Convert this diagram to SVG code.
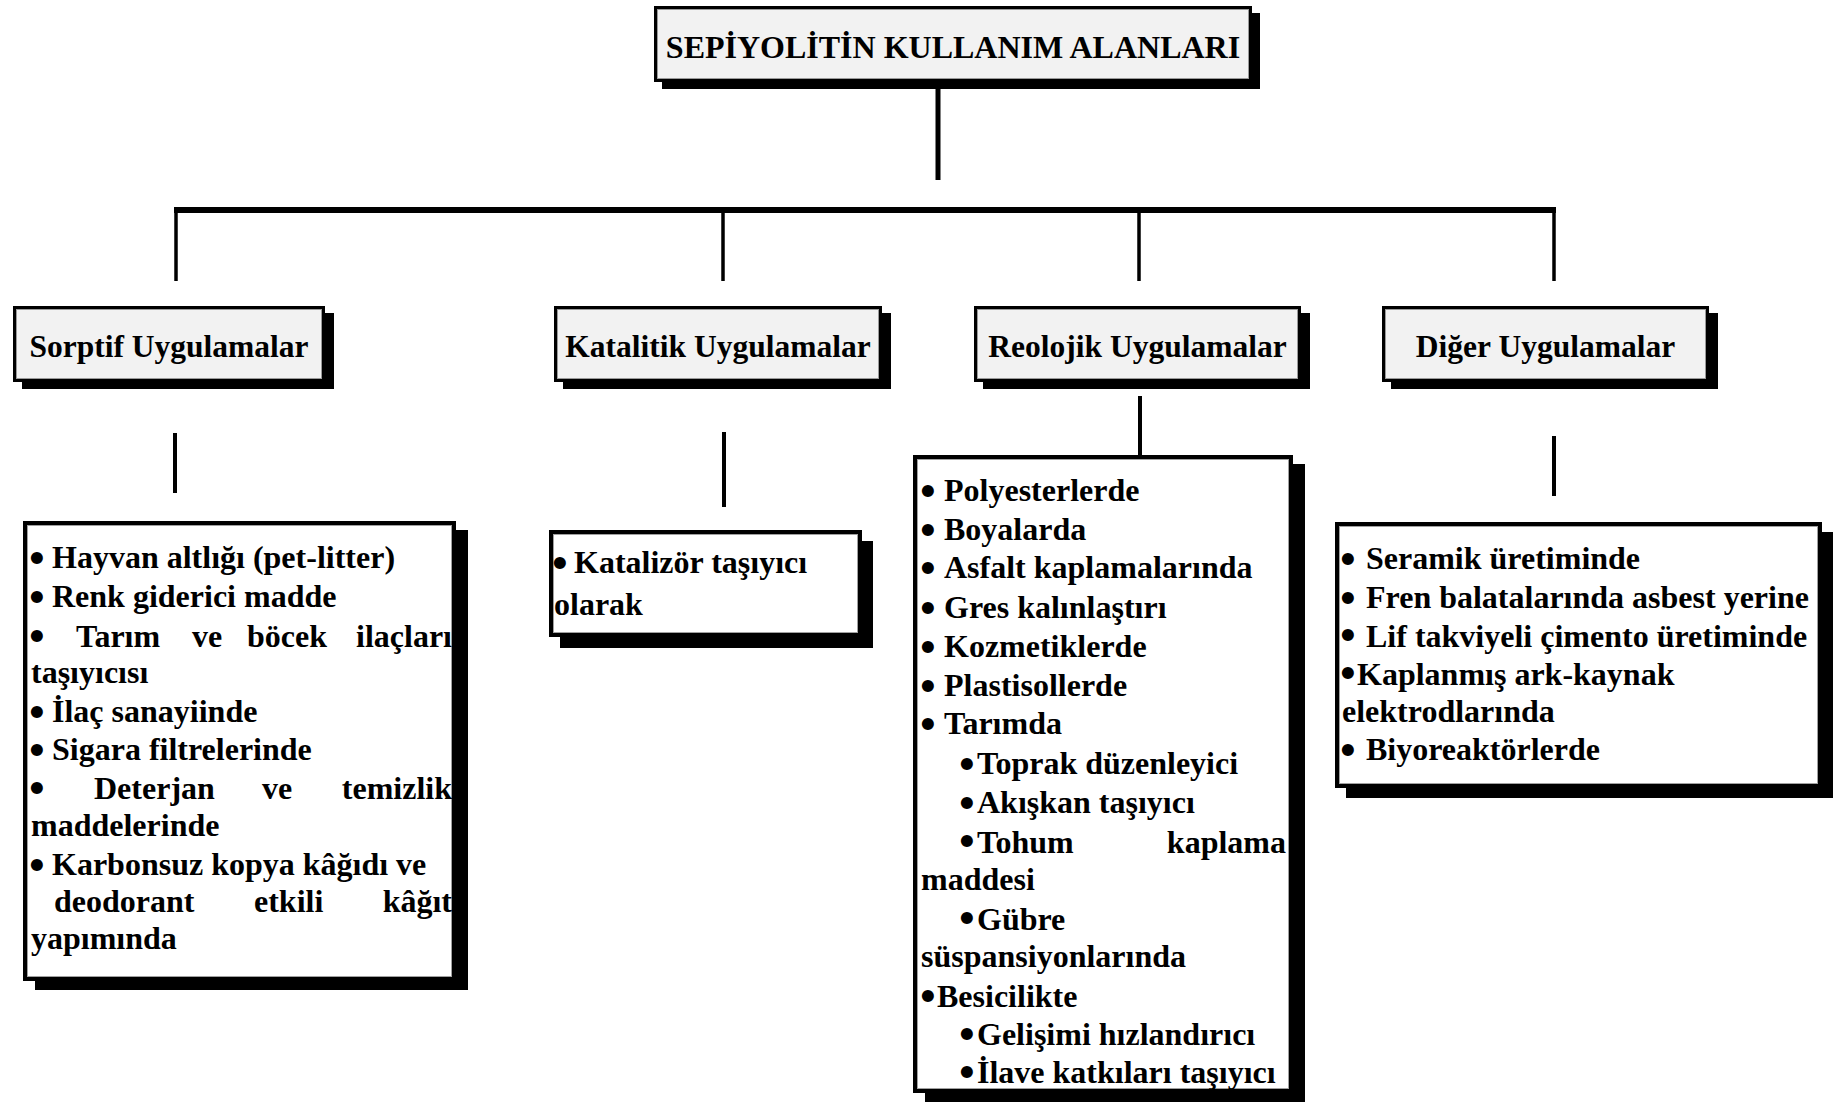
<svg xmlns="http://www.w3.org/2000/svg" width="1841" height="1104" viewBox="0 0 1841 1104">
<style>
text{font-family:"Liberation Serif","Times New Roman",serif;font-weight:bold;fill:#000}
.t{font-size:32px}
.c{font-size:31.5px;text-anchor:middle}
.d{font-size:32px}
.b{font-family:"DejaVu Sans",sans-serif;font-size:34px}
.e{text-anchor:end}
.shadow{fill:#000}
.hb{fill:#f2f2f2;stroke:#000;stroke-width:3}
.hi{fill:none;stroke:#9a9a9a;stroke-width:1}
.db{fill:#fff;stroke:#000;stroke-width:4}
.di{fill:none;stroke:#a0a0a0;stroke-width:1}
.ln{stroke:#000;fill:none}
</style>
<rect width="1841" height="1104" fill="#fff"/>
<g id="connectors">
<line class="ln" x1="938" y1="89" x2="938" y2="180" stroke-width="5"/>
<line class="ln" x1="174" y1="210" x2="1556" y2="210" stroke-width="6"/>
<line class="ln" x1="176" y1="210" x2="176" y2="281" stroke-width="3.5"/>
<line class="ln" x1="723" y1="210" x2="723" y2="281" stroke-width="3.5"/>
<line class="ln" x1="1139" y1="210" x2="1139" y2="281" stroke-width="3.5"/>
<line class="ln" x1="1554" y1="210" x2="1554" y2="281" stroke-width="3.5"/>
<line class="ln" x1="175" y1="433" x2="175" y2="493" stroke-width="4"/>
<line class="ln" x1="724" y1="432" x2="724" y2="507" stroke-width="4"/>
<line class="ln" x1="1140" y1="396" x2="1140" y2="456" stroke-width="4"/>
<line class="ln" x1="1554" y1="436" x2="1554" y2="496" stroke-width="4"/>
</g>
<g id="title">
<rect class="shadow" x="662" y="13" width="598" height="76"/>
<rect class="hb" x="655.5" y="7.5" width="595" height="73"/>
<rect class="hi" x="657.5" y="9.5" width="591" height="69"/>
<text class="t" x="953" y="58" text-anchor="middle">SEPİYOLİTİN KULLANIM ALANLARI</text>
</g>
<g id="sorptif">
<rect class="shadow" x="22" y="313" width="312" height="76"/>
<rect class="hb" x="14.5" y="307.5" width="309" height="73"/>
<rect class="hi" x="16.5" y="309.5" width="305" height="69"/>
<text class="c" x="169" y="357">Sorptif Uygulamalar</text>
</g>
<g id="katalitik">
<rect class="shadow" x="563" y="313" width="328" height="76"/>
<rect class="hb" x="555.5" y="307.5" width="325" height="73"/>
<rect class="hi" x="557.5" y="309.5" width="321" height="69"/>
<text class="c" x="718" y="357">Katalitik Uygulamalar</text>
</g>
<g id="reolojik">
<rect class="shadow" x="983" y="313" width="327" height="76"/>
<rect class="hb" x="975.5" y="307.5" width="324" height="73"/>
<rect class="hi" x="977.5" y="309.5" width="320" height="69"/>
<text class="c" x="1137.5" y="357">Reolojik Uygulamalar</text>
</g>
<g id="diger">
<rect class="shadow" x="1391" y="313" width="327" height="76"/>
<rect class="hb" x="1383.5" y="307.5" width="324" height="73"/>
<rect class="hi" x="1385.5" y="309.5" width="320" height="69"/>
<text class="c" x="1545.5" y="357">Diğer Uygulamalar</text>
</g>
<g id="sorptif-list">
<rect class="shadow" x="35" y="530" width="433" height="460"/>
<rect class="db" x="25" y="523" width="429" height="456"/>
<rect class="di" x="27.5" y="525.5" width="424" height="451"/>
<text class="d"><tspan class="b" x="26" y="571">•</tspan><tspan x="52" y="568">Hayvan altlığı (pet-litter)</tspan></text>
<text class="d"><tspan class="b" x="26" y="610">•</tspan><tspan x="52" y="607">Renk giderici madde</tspan></text>
<text class="d"><tspan class="b" x="26" y="649">•</tspan><tspan x="76" y="647">Tarım</tspan><tspan x="192" y="647">ve</tspan><tspan x="247" y="647">böcek</tspan></text>
<text class="d e" x="452" y="647">ilaçları</text>
<text class="d" x="31" y="683">taşıyıcısı</text>
<text class="d"><tspan class="b" x="26" y="725">•</tspan><tspan x="52" y="722">İlaç sanayiinde</tspan></text>
<text class="d"><tspan class="b" x="26" y="763">•</tspan><tspan x="52" y="760">Sigara filtrelerinde</tspan></text>
<text class="d"><tspan class="b" x="26" y="801">•</tspan><tspan x="94" y="799">Deterjan</tspan><tspan x="262" y="799">ve</tspan></text>
<text class="d e" x="452" y="799">temizlik</text>
<text class="d" x="31" y="836">maddelerinde</text>
<text class="d"><tspan class="b" x="26" y="878">•</tspan><tspan x="52" y="875">Karbonsuz kopya kâğıdı ve</tspan></text>
<text class="d"><tspan x="54" y="912">deodorant</tspan><tspan x="254" y="912">etkili</tspan></text>
<text class="d e" x="452" y="912">kâğıt</text>
<text class="d" x="31" y="949">yapımında</text>
</g>
<g id="katalitik-list">
<rect class="shadow" x="560" y="541" width="313" height="107"/>
<rect class="db" x="551" y="532" width="309" height="103"/>
<rect class="di" x="553.5" y="534.5" width="304" height="98"/>
<text class="d"><tspan class="b" x="549" y="576">•</tspan><tspan x="574" y="573">Katalizör taşıyıcı</tspan></text>
<text class="d" x="554" y="615">olarak</text>
</g>
<g id="reolojik-list">
<rect class="shadow" x="925" y="464" width="380" height="638"/>
<rect class="db" x="915" y="457" width="376" height="634"/>
<rect class="di" x="917.5" y="459.5" width="371" height="629"/>
<text class="d"><tspan class="b" x="917" y="504">•</tspan><tspan x="944" y="501">Polyesterlerde</tspan></text>
<text class="d"><tspan class="b" x="917" y="543">•</tspan><tspan x="944" y="540">Boyalarda</tspan></text>
<text class="d"><tspan class="b" x="917" y="581">•</tspan><tspan x="944" y="578">Asfalt kaplamalarında</tspan></text>
<text class="d"><tspan class="b" x="917" y="621">•</tspan><tspan x="944" y="618">Gres kalınlaştırı</tspan></text>
<text class="d"><tspan class="b" x="917" y="660">•</tspan><tspan x="944" y="657">Kozmetiklerde</tspan></text>
<text class="d"><tspan class="b" x="917" y="699">•</tspan><tspan x="944" y="696">Plastisollerde</tspan></text>
<text class="d"><tspan class="b" x="917" y="737">•</tspan><tspan x="944" y="734">Tarımda</tspan></text>
<text class="d"><tspan class="b" x="956" y="777">•</tspan><tspan x="977" y="774">Toprak düzenleyici</tspan></text>
<text class="d"><tspan class="b" x="956" y="816">•</tspan><tspan x="977" y="813">Akışkan taşıyıcı</tspan></text>
<text class="d"><tspan class="b" x="956" y="854">•</tspan><tspan x="977" y="853">Tohum</tspan></text>
<text class="d e" x="1286" y="853">kaplama</text>
<text class="d" x="921" y="890">maddesi</text>
<text class="d"><tspan class="b" x="956" y="931">•</tspan><tspan x="977" y="930">Gübre</tspan></text>
<text class="d" x="921" y="967">süspansiyonlarında</text>
<text class="d"><tspan class="b" x="917" y="1009">•</tspan><tspan x="937" y="1007">Besicilikte</tspan></text>
<text class="d"><tspan class="b" x="956" y="1047">•</tspan><tspan x="977" y="1045">Gelişimi hızlandırıcı</tspan></text>
<text class="d"><tspan class="b" x="956" y="1085">•</tspan><tspan x="977" y="1083">İlave katkıları taşıyıcı</tspan></text>
</g>
<g id="diger-list">
<rect class="shadow" x="1346" y="532" width="487" height="266"/>
<rect class="db" x="1337" y="524" width="483" height="262"/>
<rect class="di" x="1339.5" y="526.5" width="478" height="257"/>
<text class="d"><tspan class="b" x="1337" y="572">•</tspan><tspan x="1366" y="569">Seramik üretiminde</tspan></text>
<text class="d"><tspan class="b" x="1337" y="611">•</tspan><tspan x="1366" y="608">Fren balatalarında asbest yerine</tspan></text>
<text class="d"><tspan class="b" x="1337" y="648">•</tspan><tspan x="1366" y="647">Lif takviyeli çimento üretiminde</tspan></text>
<text class="d"><tspan class="b" x="1337" y="686">•</tspan><tspan x="1357" y="685">Kaplanmış ark-kaynak</tspan></text>
<text class="d" x="1342" y="722">elektrodlarında</text>
<text class="d"><tspan class="b" x="1337" y="763">•</tspan><tspan x="1366" y="760">Biyoreaktörlerde</tspan></text>
</g>
</svg>
